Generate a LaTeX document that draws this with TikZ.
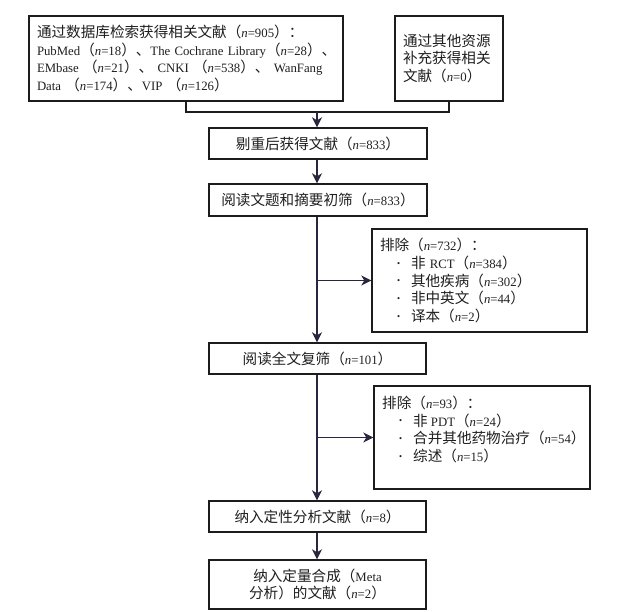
\documentclass[tikz,border=0pt]{standalone}
\usepackage{fontspec}
\setmainfont[Scale=0.875]{Liberation Serif}
\newfontfamily\cjk{Noto Sans CJK SC}
\newcommand{\C}[1]{{\cjk #1}}
\newcommand{\nn}{\textit{n}}
\newcommand{\bul}{\hspace*{17pt}\makebox[14pt][l]{\raisebox{2.2pt}{\fontsize{10}{10}\selectfont\textbullet}}}
\usetikzlibrary{arrows.meta}
\definecolor{ink}{HTML}{1E1B1C}
\definecolor{arr}{HTML}{2A2640}
\definecolor{txt}{HTML}{1F1F1F}
\tikzset{
  box/.style={draw=ink, line width=1.4pt, rectangle, inner sep=0pt, text=txt,
    font=\fontsize{14.6}{17.8}\selectfont},
  plain/.style={inner sep=0pt, text=txt, font=\fontsize{14.6}{17.8}\selectfont},
  flow/.style={draw=arr, line width=1.4pt, -{Stealth[length=10pt,width=10pt,inset=3pt]}},
  link/.style={draw=ink, line width=1.4pt},
}
\begin{document}
\begin{tikzpicture}[x=1pt,y=-1pt]
\useasboundingbox (0,0) rectangle (623,612);
\fill[white] (0,0) rectangle (623,612);

\node[box, minimum width=314pt, minimum height=85pt, text width=298pt, align=left] (db) at (186,58.5)
 {\mbox{\C{通过数据库检索获得相关文献（}\nn=905\C{）：}}\\
  \mbox{PubMed\C{（}\nn=18\C{）、}The Cochrane Library\C{（}\nn=28\C{）、}}\\
  \makebox[297pt][s]{EMbase \C{（}\nn=21\C{）、} CNKI \C{（}\nn=538\C{）、} WanFang}\\
  \mbox{Data \C{（}\nn=174\C{）、}VIP \C{（}\nn=126\C{）}}};

\node[box, minimum width=108pt, minimum height=85pt, text width=92pt, align=left] (other) at (449,58.5)
 {\C{通过其他资源}\\\C{补充获得相关}\\\C{文献（}\nn=0\C{）}};

\node[box, minimum width=218pt, minimum height=31pt] (dedup) at (318,143.5)
 {\C{剔重后获得文献（}\nn=833\C{）}};

\node[box, minimum width=218pt, minimum height=32pt] (title) at (318,200)
 {\C{阅读文题和摘要初筛（}\nn=833\C{）}};

\node[box, minimum width=215pt, minimum height=103pt, text width=199pt, align=left] (ex1) at (479.5,280.5)
 {\C{排除（}\nn=732\C{）：}\\
  \bul\C{非} RCT\C{（}\nn=384\C{）}\\
  \bul\C{其他疾病（}\nn=302\C{）}\\
  \bul\C{非中英文（}\nn=44\C{）}\\
  \bul\C{译本（}\nn=2\C{）}};

\node[box, minimum width=217pt, minimum height=31pt] (full) at (317.5,358.5)
 {\C{阅读全文复筛（}\nn=101\C{）}};

\node[box, minimum width=216pt, minimum height=103pt] (ex2) at (482,437.5) {};
\node[plain, anchor=west, align=left] (ex2t) at (382,429.5)
 {\C{排除（}\nn=93\C{）：}\\
  \bul\C{非} PDT\C{（}\nn=24\C{）}\\
  \bul\C{合并其他药物治疗（}\nn=54\C{）}\\
  \bul\C{综述（}\nn=15\C{）}};

\node[box, minimum width=217pt, minimum height=31pt] (qual) at (317.5,516.5)
 {\C{纳入定性分析文献（}\nn=8\C{）}};

\node[box, minimum width=217pt, minimum height=49pt, align=center] (meta) at (317.5,584.5)
 {\C{纳入定量合成（}Meta\\\C{分析）的文献（}\nn=2\C{）}};

\coordinate (mj) at (317,112);
\draw[link] (db.south) -- (db.south |- mj) -- (other.south |- mj) -- (other.south);
\draw[flow] (mj) -- (mj |- dedup.north);
\draw[flow] (mj |- dedup.south) -- (mj |- title.north);
\draw[flow] (mj |- title.south) -- (mj |- full.north);
\draw[flow] (mj |- ex1.west) -- (ex1.west);
\draw[flow] (mj |- full.south) -- (mj |- qual.north);
\draw[flow] (mj |- ex2.west) -- (ex2.west);
\draw[flow] (mj |- qual.south) -- (mj |- meta.north);
\end{tikzpicture}
\end{document}
